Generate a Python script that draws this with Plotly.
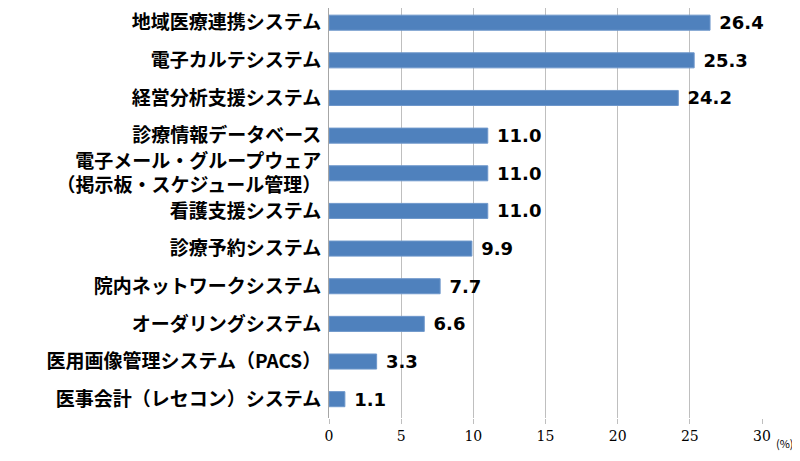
import plotly.graph_objects as go

# --- data (top to bottom as shown) ---
categories = [
    "地域医療連携システム",
    "電子カルテシステム",
    "経営分析支援システム",
    "診療情報データベース",
    "電子メール・グループウェア<br>（掲示板・スケジュール管理）",
    "看護支援システム",
    "診療予約システム",
    "院内ネットワークシステム",
    "オーダリングシステム",
    "医用画像管理システム（PACS）",
    "医事会計（レセコン）システム",
]
values = [26.4, 25.3, 24.2, 11.0, 11.0, 11.0, 9.9, 7.7, 6.6, 3.3, 1.1]
x_ticks = [0, 5, 10, 15, 20, 25, 30]

fig = go.Figure(go.Bar(
    x=values,
    y=categories,
    orientation="h",
    width=0.4,
    marker=dict(color="#4F81BD", line=dict(color="#6E97CB", width=1)),
    text=[f" {v:.1f}" for v in values],
    textposition="outside",
    constraintext="none",
    cliponaxis=False,
    textfont=dict(family="DejaVu Sans", size=18, color="black", weight="bold"),
))

# page body has an 8px margin, so the figure is sized to fit inside the window
fig.update_layout(
    width=792, height=445,
    margin=dict(l=321, r=38, t=0, b=35),
    plot_bgcolor="white", paper_bgcolor="white",
    showlegend=False,
    font=dict(family="Noto Sans CJK JP", color="black"),
)

fig.update_xaxes(
    range=[0, 30], tickvals=x_ticks, ticks="outside", ticklen=5,
    tickcolor="#BFBFBF", showgrid=True, gridcolor="#BFBFBF", gridwidth=1,
    zeroline=False, showline=False, automargin=False,
    tickfont=dict(family="DejaVu Serif", size=14, color="black"),
)
fig.update_yaxes(
    range=[10.5, -0.39], showline=True, linecolor="#A6A6A6", linewidth=1,
    ticks="", ticklabelstandoff=3, automargin=False,
    tickfont=dict(family="Noto Sans CJK JP", size=19, color="black", weight="bold"),
)

fig.add_annotation(
    text="(%)", xref="paper", yref="paper", x=1.053, y=-0.06,
    xanchor="center", yanchor="middle", showarrow=False,
    font=dict(family="Noto Sans CJK JP", size=11, color="black"),
)

fig.write_html("out.html")
